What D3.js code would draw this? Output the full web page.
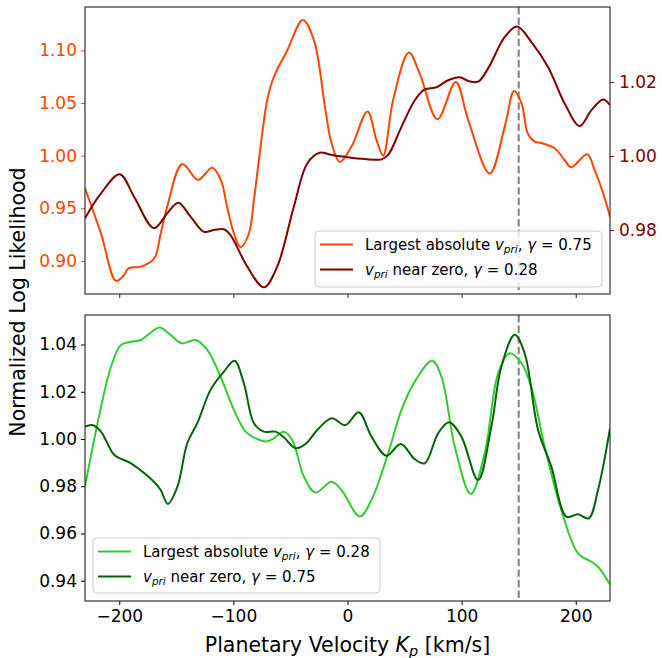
<!DOCTYPE html>
<html>
<head>
<meta charset="utf-8">
<script src="https://cdn.jsdelivr.net/npm/d3@7"></script>
<style>
  html, body { margin: 0; padding: 0; background: #fff; }
  svg { display: block; font-family: "DejaVu Sans", sans-serif; }
</style>
</head>
<body>
<svg id="chart" width="662" height="658"></svg>
<script>
// Planetary velocity grid (km/s) and normalized log-likelihood curves

// Top panel, left axis: largest absolute v_pri, gamma = 0.75
const kpTopA = [-230,-216,-203,-197,-191.5,-181,-169.5,-163.7,-158,-144.7,-131,-118.6,-111,-105.5,-99.5,-93.7,-86.4,-82,-77.6,-70.3,-64.5,-52.8,-39.1,-29.5,-19.3,-14,-6.7,3.5,17.5,25.4,31.2,40,53.7,63.3,78.8,94.8,105.7,124.6,137.8,146,152.4,158,164,170,181.5,190.3,196,210,216.5,224,230];
const llTopA = [0.969,0.926,0.881,0.885,0.893,0.8945,0.902,0.926,0.9515,0.992,0.977,0.9886,0.977,0.9515,0.926,0.913,0.926,0.958,0.996,1.053,1.075,1.100,1.129,1.110,1.043,1.012,0.994,1.0086,1.042,1.015,1.000,1.053,1.098,1.078,1.0346,1.070,1.034,0.983,1.0276,1.0615,1.050,1.021,1.0133,1.012,1.007,0.9957,0.989,1.0013,0.9864,0.9643,0.942];

// Top panel, right axis: v_pri near zero, gamma = 0.28
const kpTopB = [-230,-216,-199.6,-187,-169.6,-158,-148.3,-137.5,-125.8,-117,-108.3,-102.5,-87.8,-73.3,-61.6,-47,-35.3,-24.5,-14,-2.4,15.1,29.8,35.6,47.3,59,67.7,78,88.2,98.4,105.7,114.4,123.2,137.8,148.6,161,175.7,190.3,203.4,213.7,224,230];
const llTopB = [0.9832,0.9899,0.9951,0.9890,0.9805,0.9845,0.9874,0.9836,0.9795,0.9800,0.9802,0.9786,0.9701,0.9645,0.9701,0.9863,0.9980,1.0009,1.0003,0.9998,0.9992,0.9991,1.0003,1.0079,1.0151,1.0180,1.0186,1.0205,1.0213,1.0203,1.0201,1.0237,1.0322,1.0350,1.0309,1.0241,1.0142,1.0081,1.0124,1.0153,1.0138];

// Bottom panel: largest absolute v_pri, gamma = 0.28
const kpBotA = [-230,-219,-207.2,-198.5,-189.7,-181,-172.5,-164.6,-155,-145.4,-133,-122.9,-111.2,-99.5,-89.3,-80.6,-71.8,-64.5,-55.8,-48.4,-38.2,-28,-14,-5.3,10.8,21,35.6,47.3,59,74.2,82.3,94,108,120.2,132,142.2,152.4,161,172.8,187.4,202,213.7,219.5,230];
const llBotA = [0.9798,1.0067,1.0306,1.0398,1.0412,1.0419,1.0450,1.0472,1.0441,1.0405,1.0419,1.0377,1.0264,1.0123,1.0031,1.0003,0.9989,1.0003,1.0031,0.9996,0.9840,0.9773,0.9819,0.9784,0.9672,0.9742,0.9939,1.0123,1.0243,1.0331,1.0264,0.9967,0.9767,0.9939,1.0278,1.0363,1.0321,1.0222,0.9967,0.9699,0.9516,0.9480,0.9459,0.9384];

// Bottom panel: v_pri near zero, gamma = 0.75
const kpBotB = [-230,-223.6,-216,-210.4,-204.3,-189.7,-178,-169.6,-163.7,-157.4,-149,-140.4,-131.6,-120,-108.3,-99,-90.8,-82,-73.3,-63,-55.8,-45.5,-36.8,-26.5,-14,-1.8,9.9,21,34.1,46.7,59,67.7,79.4,89,99.8,114.4,126,134.8,146.5,155.2,167,178.6,191.8,202,211.3,219.5,230];
const llBotB = [1.0052,1.0059,1.0031,0.9982,0.9932,0.9897,0.9855,0.9819,0.9784,0.9725,0.9798,0.9982,1.0067,1.0208,1.0285,1.0331,1.0236,1.0067,1.0031,1.0031,1.0007,0.9961,0.9979,1.0038,1.0088,1.0059,1.0113,1.0010,0.9929,0.9979,0.9914,0.9897,1.0024,1.0071,1.0010,0.9826,1.0052,1.0306,1.0441,1.0363,1.0038,0.9883,0.9671,0.9681,0.9664,0.9784,1.0045];

// Tick values
const kpTicks = [-200, -100, 0, 100, 200];
const topLeftTicks = [0.90, 0.95, 1.00, 1.05, 1.10];
const topRightTicks = [0.98, 1.00, 1.02];
const bottomTicks = [0.94, 0.96, 0.98, 1.00, 1.02, 1.04];
const kpMarker = 150;

// Legend labels
const topLegend = [
  { kind: "abs", gamma: "0.75", color: "#ff4500" },
  { kind: "zero", gamma: "0.28", color: "#800000" }
];
const bottomLegend = [
  { kind: "abs", gamma: "0.28", color: "#32cd32" },
  { kind: "zero", gamma: "0.75", color: "#006400" }
];

const svg = d3.select("#chart");
svg.append("rect").attr("width", 662).attr("height", 658).attr("fill", "#fff");

const L = 85, R = 610;
const top1 = 7, bot1 = 294, top2 = 315, bot2 = 601;
const tickFont = 17;

const x = d3.scaleLinear().domain([-230, 230]).range([L, R]);
const yTopL = d3.scaleLinear().domain([0.8685, 1.1413]).range([bot1, top1]);
const yTopR = d3.scaleLinear().domain([0.9627, 1.0403]).range([bot1, top1]);
const yBot = d3.scaleLinear().domain([0.9314, 1.0525]).range([bot2, top2]);

const defs = svg.append("defs");
defs.append("clipPath").attr("id", "clipTop")
  .append("rect").attr("x", L).attr("y", top1).attr("width", R - L).attr("height", bot1 - top1);
defs.append("clipPath").attr("id", "clipBot")
  .append("rect").attr("x", L).attr("y", top2).attr("width", R - L).attr("height", bot2 - top2);

function drawLine(g, xs, ys, yScale, color) {
  const pts = xs.map((v, i) => [v, ys[i]]);
  const line = d3.line()
    .x(d => x(d[0]))
    .y(d => yScale(d[1]))
    .curve(d3.curveCatmullRom.alpha(0.5));
  g.append("path").datum(pts)
    .attr("d", line)
    .attr("fill", "none")
    .attr("stroke", color)
    .attr("stroke-width", 2)
    .attr("stroke-linejoin", "round");
}

function styleAxis(g, color) {
  g.select(".domain").remove();
  g.selectAll(".tick line").attr("stroke", color).attr("stroke-width", 1);
  g.selectAll(".tick text")
    .attr("fill", color)
    .attr("font-size", tickFont)
    .attr("font-family", "DejaVu Sans, sans-serif");
}

// ---- Top panel ----
const gTop = svg.append("g").attr("clip-path", "url(#clipTop)");
gTop.append("line")
  .attr("x1", x(kpMarker)).attr("x2", x(kpMarker))
  .attr("y1", top1).attr("y2", bot1)
  .attr("stroke", "#808080").attr("stroke-width", 2)
  .attr("stroke-dasharray", "7.4,3.2");
drawLine(gTop, kpTopA, llTopA, yTopL, "#ff4500");
drawLine(gTop, kpTopB, llTopB, yTopR, "#800000");

svg.append("g").attr("transform", `translate(${L},0)`)
  .call(d3.axisLeft(yTopL).tickValues(topLeftTicks).tickFormat(d3.format(".2f")).tickSize(4).tickPadding(4))
  .call(g => styleAxis(g, "#ff4500"));
svg.append("g").attr("transform", `translate(${R},0)`)
  .call(d3.axisRight(yTopR).tickValues(topRightTicks).tickFormat(d3.format(".2f")).tickSize(4).tickPadding(5))
  .call(g => styleAxis(g, "#800000"));
svg.append("g").attr("transform", `translate(0,${bot1})`)
  .call(d3.axisBottom(x).tickValues(kpTicks).tickFormat("").tickSize(4))
  .call(g => styleAxis(g, "#222"));

svg.append("rect").attr("x", L).attr("y", top1).attr("width", R - L).attr("height", bot1 - top1)
  .attr("fill", "none").attr("stroke", "#222").attr("stroke-width", 1.1);

// ---- Bottom panel ----
const gBot = svg.append("g").attr("clip-path", "url(#clipBot)");
gBot.append("line")
  .attr("x1", x(kpMarker)).attr("x2", x(kpMarker))
  .attr("y1", top2).attr("y2", bot2)
  .attr("stroke", "#808080").attr("stroke-width", 2)
  .attr("stroke-dasharray", "7.4,3.2");
drawLine(gBot, kpBotA, llBotA, yBot, "#32cd32");
drawLine(gBot, kpBotB, llBotB, yBot, "#006400");

svg.append("g").attr("transform", `translate(${L},0)`)
  .call(d3.axisLeft(yBot).tickValues(bottomTicks).tickFormat(d3.format(".2f")).tickSize(4).tickPadding(4))
  .call(g => styleAxis(g, "#000"));
svg.append("g").attr("transform", `translate(0,${bot2})`)
  .call(d3.axisBottom(x).tickValues(kpTicks).tickFormat(d3.format("d")).tickSize(4).tickPadding(5))
  .call(g => styleAxis(g, "#000"));

svg.append("rect").attr("x", L).attr("y", top2).attr("width", R - L).attr("height", bot2 - top2)
  .attr("fill", "none").attr("stroke", "#222").attr("stroke-width", 1.1);

// ---- Legends ----
function legend(x0, y0, w, h, items) {
  const g = svg.append("g").attr("transform", `translate(${x0},${y0})`);
  g.append("rect").attr("width", w).attr("height", h).attr("rx", 4)
    .attr("fill", "#fff").attr("fill-opacity", 0.8)
    .attr("stroke", "#cccccc").attr("stroke-width", 1);
  items.forEach((it, i) => {
    const cy = 13.5 + i * 25;
    g.append("line").attr("x1", 5).attr("x2", 38).attr("y1", cy).attr("y2", cy)
      .attr("stroke", it.color).attr("stroke-width", 2);
    const t = g.append("text").attr("x", 50).attr("y", cy + 5.5)
      .attr("font-size", 15).attr("fill", "#000");
    if (it.kind === "abs") t.append("tspan").text("Largest absolute ");
    t.append("tspan").attr("font-style", "italic").text("v");
    t.append("tspan").attr("font-style", "italic").attr("font-size", 10.5).attr("dy", 3.3).text("pri");
    const rest = t.append("tspan").attr("dy", -3.3);
    rest.text(it.kind === "abs" ? ", " : " near zero, ");
    t.append("tspan").attr("font-style", "italic").text("γ");
    t.append("tspan").text(" = " + it.gamma);
  });
}
legend(315, 231, 287, 56, topLegend);
legend(93, 538, 287, 55, bottomLegend);

// ---- Axis titles ----
svg.append("text")
  .attr("transform", "translate(25,302) rotate(-90)")
  .attr("text-anchor", "middle")
  .attr("font-size", 20.5)
  .text("Normalized Log Likelihood");

const xl = svg.append("text")
  .attr("x", (L + R) / 2).attr("y", 652)
  .attr("text-anchor", "middle")
  .attr("font-size", 20.5);
xl.append("tspan").text("Planetary Velocity ");
xl.append("tspan").attr("font-style", "italic").text("K");
xl.append("tspan").attr("font-style", "italic").attr("font-size", 14.5).attr("dy", 4).text("p");
xl.append("tspan").attr("dy", -4).text(" [km/s]");
</script>
</body>
</html>
